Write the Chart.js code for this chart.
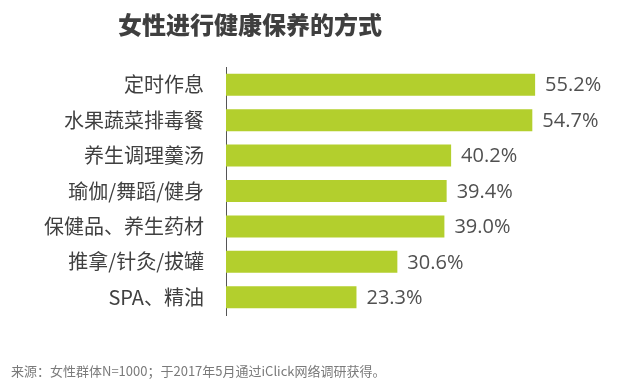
<!DOCTYPE html>
<html>
<head>
<meta charset="utf-8">
<script src="https://cdn.jsdelivr.net/npm/chart.js@4"></script>
<style>
  html, body { margin: 0; padding: 0; background: #fff; }
  #wrap { position: relative; width: 640px; height: 389px; }
  #title {
    position: absolute; left: 118px; top: 6px;
    font: 900 24px "Noto Sans CJK SC", sans-serif; color: #3f3f3f;
    white-space: nowrap;
  }
  #note {
    position: absolute; left: 11px; top: 361px;
    font: 13px "Noto Sans CJK SC", sans-serif; color: #7a7a7a;
    white-space: nowrap;
  }
</style>
</head>
<body>
<div id="wrap">
  <canvas id="myChart" width="640" height="389"></canvas>
  <div id="title">女性进行健康保养的方式</div>
  <div id="note">来源：女性群体N=1000；于2017年5月通过iClick网络调研获得。</div>
</div>
<script>
var labels = ['定时作息', '水果蔬菜排毒餐', '养生调理羹汤', '瑜伽/舞蹈/健身', '保健品、养生药材', '推拿/针灸/拔罐', 'SPA、精油'];
var values = [55.2, 54.7, 40.2, 39.4, 39.0, 30.6, 23.3];

// value text at the end of each bar
var valueLabels = {
  id: 'valueLabels',
  afterDatasetsDraw: function (chart) {
    var ctx = chart.ctx;
    var meta = chart.getDatasetMeta(0);
    ctx.save();
    ctx.font = '20px "Open Sans", sans-serif';
    ctx.fillStyle = '#505050';
    ctx.textAlign = 'left';
    ctx.textBaseline = 'middle';
    meta.data.forEach(function (bar, i) {
      ctx.fillText(values[i].toFixed(1) + '%', bar.x + 10, bar.y + 1);
    });
    ctx.restore();
  }
};

var ctx = document.getElementById('myChart');
var myChart = new Chart(ctx, {
  type: 'bar',
  data: {
    labels: labels,
    datasets: [{
      data: values,
      backgroundColor: '#b3cf2d',
      borderWidth: 0,
      categoryPercentage: 1,
      barPercentage: 0.62
    }]
  },
  options: {
    indexAxis: 'y',
    responsive: false,
    animation: false,
    layout: {
      padding: { top: 67, bottom: 74, left: 0, right: 22 }
    },
    scales: {
      x: {
        display: false,
        min: 0,
        max: 70
      },
      y: {
        afterFit: function (scale) { scale.width = 226; },
        grid: { display: false, drawTicks: false },
        border: { display: true, color: '#555555', width: 1 },
        ticks: {
          padding: 22,
          color: '#404040',
          font: { family: '"Noto Sans CJK SC"', size: 20 }
        }
      }
    },
    plugins: {
      legend: { display: false },
      tooltip: { enabled: false }
    }
  },
  plugins: [valueLabels]
});
</script>
</body>
</html>
